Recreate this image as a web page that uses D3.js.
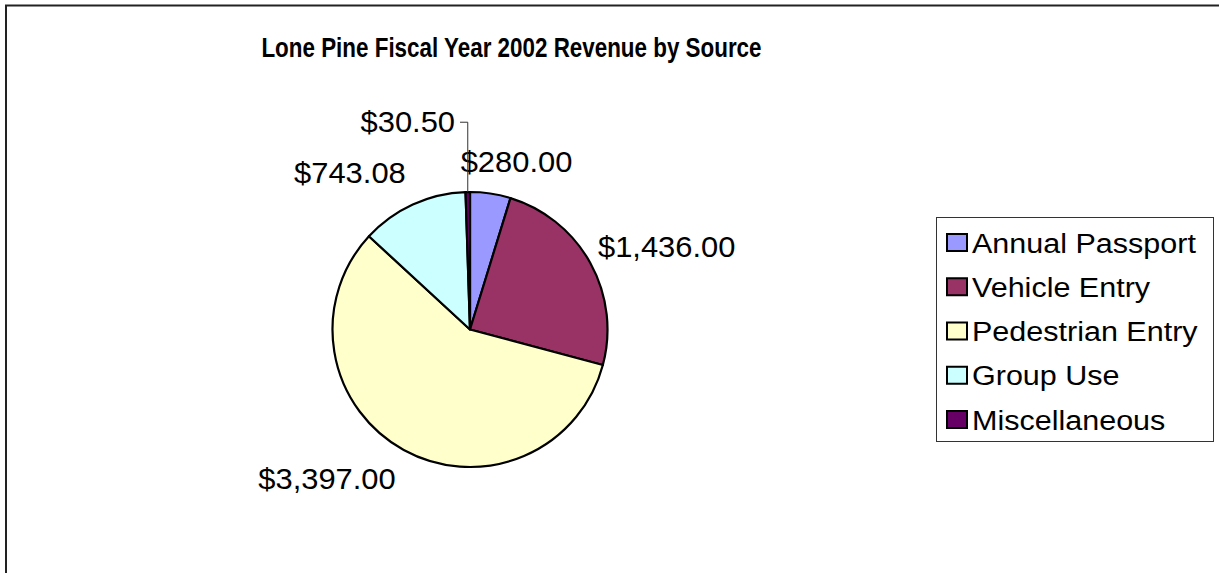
<!DOCTYPE html>
<html>
<head>
<meta charset="utf-8">
<script src="https://cdn.jsdelivr.net/npm/d3@7"></script>
<style>
  html, body { margin: 0; background: #fff; overflow: hidden; }
  svg { display: block; }
</style>
</head>
<body>
<svg id="chart"></svg>
<script>
const chartTitle = "Lone Pine Fiscal Year 2002 Revenue by Source";
const categories = ["Annual Passport", "Vehicle Entry", "Pedestrian Entry", "Group Use", "Miscellaneous"];
const revenue = [280.00, 1436.00, 3397.00, 743.08, 30.50];
const sliceColors = ["#9999FF", "#993366", "#FFFFCC", "#CCFFFF", "#660066"];
// labels that were dragged around in the original sheet (dx, dy from the default spot)
const labelNudge = [[-32, -7], [-5, -4.5], [-1, 6], [-1, -9], [-12.5, -45]];

const width = 1219, height = 573;
const font = "'Liberation Sans', Arial, sans-serif";
const cx = 470, cy = 329.5, radius = 137.5;

const svg = d3.select("#chart")
    .attr("width", width)
    .attr("height", height);

// excel text comes out a bit squashed/stretched, fake it with textLength
function stretch(sel, k) {
    sel.each(function () {
        const w = this.getComputedTextLength();
        d3.select(this)
            .attr("textLength", w * k)
            .attr("lengthAdjust", "spacingAndGlyphs");
    });
}

// chart area border - only top and left edges are inside the window
svg.append("path")
    .attr("d", `M6,${height} V5.5 H${width}`)
    .attr("fill", "none")
    .attr("stroke", "#222")
    .attr("stroke-width", 2);

const title = svg.append("text")
    .attr("x", 511.5)
    .attr("y", 57)
    .attr("text-anchor", "middle")
    .style("font-family", font)
    .style("font-weight", "bold")
    .style("font-size", "28px")
    .text(chartTitle);
stretch(title, 0.8);

// pie
const pie = d3.pie().sort(null).value(d => d);
const arcs = pie(revenue);
const arc = d3.arc().innerRadius(0).outerRadius(radius);

const g = svg.append("g")
    .attr("transform", `translate(${cx},${cy})`);

g.selectAll(".slice")
    .data(arcs)
    .enter()
    .append("path")
    .attr("class", "slice")
    .attr("d", arc)
    .attr("fill", (_, i) => sliceColors[i])
    .attr("stroke", "#000")
    .attr("stroke-width", 2.2)
    .attr("stroke-linejoin", "round");

// data labels outside the pie
const fmt = d3.format("$,.2f");
const labelR = 152;

arcs.forEach((d, i) => {
    const a = (d.startAngle + d.endAngle) / 2;
    const px = labelR * Math.sin(a);
    const py = -labelR * Math.cos(a);
    const x = px + labelNudge[i][0];
    const y = py - Math.cos(a) * 11 + 10.7 + labelNudge[i][1];
    const anchor = Math.sin(a) >= 0 ? "start" : "end";

    const t = g.append("text")
        .attr("x", x)
        .attr("y", y)
        .attr("text-anchor", anchor)
        .style("font-family", font)
        .style("font-size", "30px")
        .attr("fill", "#000")
        .text(fmt(revenue[i]));
    stretch(t, 1.03);

    // thin slices get a leader line back to the edge
    if (d.endAngle - d.startAngle < 0.05) {
        const ex = radius * Math.sin(a), ey = -radius * Math.cos(a);
        const ly = y - 10;
        g.append("polyline")
            .attr("points", `${ex},${ey} ${ex},${ly} ${x + 5},${ly}`)
            .attr("fill", "none")
            .attr("stroke", "#333")
            .attr("stroke-width", 1);
    }
});

// legend
const legend = svg.append("g")
    .attr("transform", "translate(936,217)");

legend.append("rect")
    .attr("x", 0.5)
    .attr("y", 0.5)
    .attr("width", 277)
    .attr("height", 224)
    .attr("fill", "#fff")
    .attr("stroke", "#333")
    .attr("stroke-width", 1);

const rowY = d3.scalePoint()
    .domain(categories)
    .range([26, 203]);

const rows = legend.selectAll(".lg")
    .data(categories)
    .enter()
    .append("g")
    .attr("class", "lg")
    .attr("transform", d => `translate(0,${rowY(d)})`);

rows.append("rect")
    .attr("x", 11)
    .attr("y", -9)
    .attr("width", 20)
    .attr("height", 17)
    .attr("fill", (_, i) => sliceColors[i])
    .attr("stroke", "#000")
    .attr("stroke-width", 2);

const lt = rows.append("text")
    .attr("x", 36)
    .attr("y", 9.5)
    .style("font-family", font)
    .style("font-size", "27px")
    .text(d => d);
stretch(lt, 1.13);
</script>
</body>
</html>
